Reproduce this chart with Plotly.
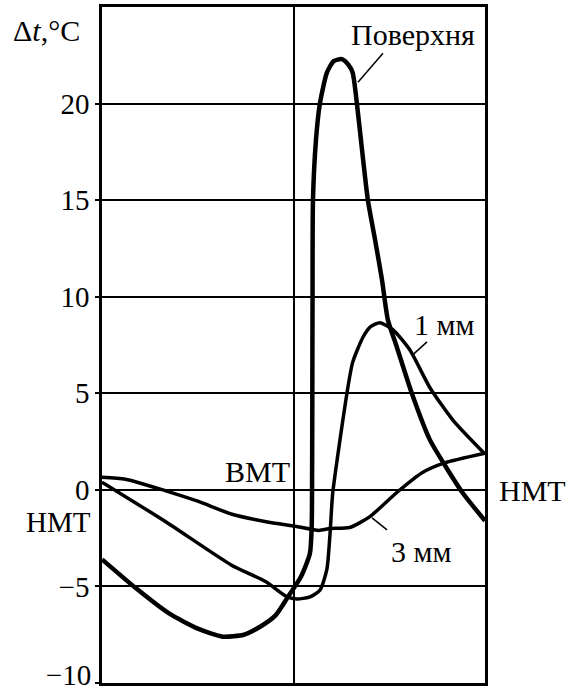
import plotly.graph_objects as go

# crank angle in degrees relative to ВМТ (НМТ = -180 / +180), values in °C
surf_x = [-180, -148, -117, -89.3, -66.5, -46.7, -31.8, -16.9, -5.9, 7, 15.4, 17.1, 17.5, 17.7, 17.9, 18.3, 21.1, 24.8, 31.4, 37.8, 45.5, 51.7, 55.6, 59.6, 64.6, 69.9, 76.5, 83.1, 88.7, 97.1, 111.2, 128.1, 142, 158.9, 180]
surf_y = [-3.6, -5.1, -6.4, -7.2, -7.6, -7.5, -7.1, -6.5, -5.6, -4.5, -3.3, -1.9, 1.0, 5.0, 10.0, 15.0, 18.1, 20.0, 21.6, 22.2, 22.3, 22.0, 21.6, 20.0, 17.5, 15.0, 13.0, 10.9, 8.8, 7.4, 5.0, 2.6, 1.3, -0.15, -1.6]

mm1_x = [-180, -120.1, -58.2, -26.2, -7.3, 3, 14.9, 24.8, 31.4, 34.3, 36.8, 43.7, 50.2, 55.6, 65.3, 72.5, 81.2, 93.4, 109.3, 128.1, 150, 180]
mm1_y = [0.4, -1.65, -3.9, -4.75, -5.5, -5.65, -5.55, -5.2, -4.1, -2.3, -0.2, 2.6, 5.0, 6.6, 7.9, 8.45, 8.65, 8.3, 7.25, 5.3, 3.6, 1.85]

mm3_x = [-180, -157.9, -120.1, -89.3, -58.6, -25.8, 3, 23.9, 34.3, 52.7, 71.5, 96.8, 121.2, 142, 180]
mm3_y = [0.65, 0.55, -0.05, -0.6, -1.25, -1.65, -1.9, -2.1, -2.0, -1.95, -1.4, -0.15, 0.9, 1.4, 1.9]

y_ticks = [-10, -5, 0, 5, 10, 15, 20]
y_tick_text = ["\u221210", "\u22125", "0", "5", "10", "15", "20"]
x_grid = [-180, 0, 180]
y_range = [-10, 25]

FONT = "Liberation Serif"

fig = go.Figure()
fig.add_trace(go.Scatter(x=surf_x, y=surf_y, mode="lines", name="Поверхня",
                         line=dict(color="black", width=4.5, shape="spline", smoothing=0.6)))
fig.add_trace(go.Scatter(x=mm1_x, y=mm1_y, mode="lines", name="1 мм",
                         line=dict(color="black", width=3.5, shape="spline", smoothing=0.6)))
# drawn on the overlaid (identical-range) axis so that axis renders its label
fig.add_trace(go.Scatter(x=mm3_x, y=mm3_y, mode="lines", name="3 мм", yaxis="y2",
                         line=dict(color="black", width=3.5, shape="spline", smoothing=0.6)))

# leader lines from labels to curves
leaders = [((84.1, 22.6), (60.6, 21.1)), ((125.5, 7.66), (112.3, 7.0)), ((73.8, -1.45), (87.9, -2.07))]
for (x0, y0), (x1, y1) in leaders:
    fig.add_shape(type="line", x0=x0, y0=y0, x1=x1, y1=y1, xref="x", yref="y",
                  line=dict(color="black", width=1.5))

annotations = [
    dict(x=-0.146, y=0.9645, text="\u0394<i>t</i>,°C", xanchor="center", size=30),
    dict(x=-0.0235, y=0.238, text="НМТ", xanchor="right", size=29),
    dict(x=0.496, y=0.3136, text="ВМТ", xanchor="right", size=30),
    dict(x=1.0313, y=0.2855, text="НМТ", xanchor="left", size=30),
    dict(x=0.812, y=0.9586, text="Поверхня", xanchor="center", size=30),
    dict(x=0.893, y=0.531, text="1 мм", xanchor="center", size=30),
    dict(x=0.833, y=0.195, text="3 мм", xanchor="center", size=30),
]
for a in annotations:
    size = a.pop("size")
    fig.add_annotation(xref="paper", yref="paper", showarrow=False, yanchor="middle",
                       font=dict(family=FONT, size=size, color="black"), **a)

tick_font = dict(family=FONT, size=29, color="black")
fig.update_layout(
    width=566, height=688,
    margin=dict(l=102, r=81, t=7, b=5, autoexpand=False),
    paper_bgcolor="white", plot_bgcolor="white",
    showlegend=False,
    font=dict(family=FONT, size=28, color="black"),
    xaxis=dict(range=[-180, 180], tickvals=x_grid, showticklabels=False,
               showgrid=True, gridcolor="black", gridwidth=2,
               showline=True, linecolor="black", linewidth=2.5, mirror=True,
               zeroline=False, ticks="", automargin=False),
    yaxis=dict(range=y_range, tickvals=y_ticks,
               ticktext=[""] + y_tick_text[1:],
               showgrid=True, gridcolor="black", gridwidth=2,
               showline=True, linecolor="black", linewidth=2.5, mirror=True,
               zeroline=False, ticks="outside", ticklen=4, tickwidth=2, tickcolor="black",
               ticklabeloverflow="allow", automargin=False, tickfont=tick_font),
    # overlaid left axis, same range: carries only the bottom "−10" label, lifted off the page edge
    yaxis2=dict(overlaying="y", side="left", range=y_range,
                tickvals=y_ticks[:1], ticktext=y_tick_text[:1],
                showgrid=False, showline=False, zeroline=False,
                ticks="outside", ticklen=4, tickwidth=2, tickcolor="black",
                ticklabelshift=-8,
                ticklabeloverflow="allow", automargin=False, tickfont=tick_font),
)

fig.write_html("out.html", config={"displayModeBar": False},
               post_script="document.body.style.margin='0';")
